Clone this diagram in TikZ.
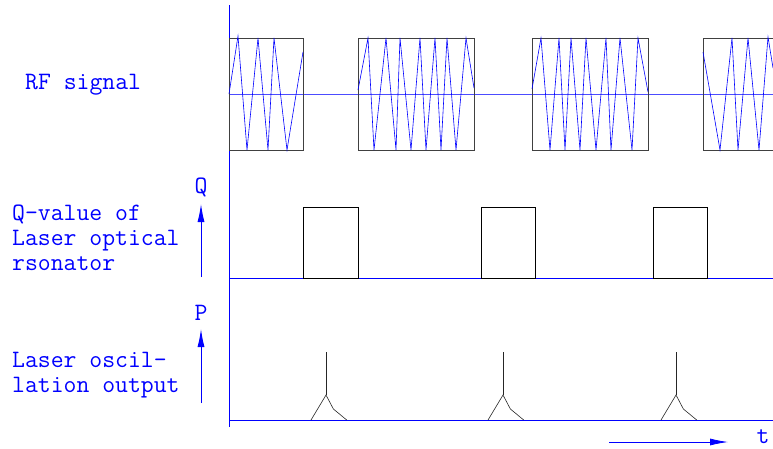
\documentclass[tikz,border=0pt]{standalone}
\usetikzlibrary{arrows.meta}
\tikzset{>={Latex[length=18pt,width=7pt]}}

\begin{document}
\begin{tikzpicture}[x = 1pt, y = -1pt,
    axis/.style = {blue, line width = 0.8pt},
    wave/.style = {blue, line width = 0.6pt},
    pulse/.style = {black!75, line width = 1pt},
    label/.style = {blue, anchor = base west, align = left, inner sep = 0pt, font = \fontsize{25}{25}\selectfont\ttfamily}]

    \useasboundingbox (0,0) rectangle (773,448);

    % axes
    \draw[axis] (229,5) -- (229,427);
    \draw[blue!70, line width = 1pt] (229,94) -- (773,94);
    \draw[axis] (229,278) -- (773,278);
    \draw[axis] (229,420) -- (773,420);

    % RF signal
    \node[label] (rf) at (25,89) {RF signal};
    \draw[pulse] (229,38) rectangle (303,150);
    \draw[pulse] (358,38) rectangle (474,150);
    \draw[pulse] (532,38) rectangle (648,150);
    \draw[pulse] (773,38) -- (703,38) -- (703,150) -- (773,150);

    \draw[wave] (229,94) -- (238,36) -- (247,150) -- (258,38) -- (268,150) -- (274,38) -- (287,150) -- (303,52);
    \draw[wave] (358,90) -- (368,38) -- (374,150) -- (386,38) -- (396,150) -- (400,38) -- (411,150) -- (420,38)
        -- (426,150) -- (435,38) -- (441,150) -- (447,38) -- (456,150) -- (466,38) -- (474,88);
    \draw[wave] (532,89) -- (541,38) -- (550,150) -- (559,38) -- (565,150) -- (571,38) -- (580,150) -- (586,38)
        -- (596,150) -- (606,38) -- (611,150) -- (620,38) -- (632,150) -- (638,38) -- (648,92);
    \draw[wave] (703,52) -- (720,150) -- (732,38) -- (738,150) -- (748,38) -- (759,150) -- (768,37) -- (773,68);

    % Q-value
    \node[label] (qtxt) at (12,270) {Q-value of\\Laser optical\\rsonator};
    \node[blue, font = \fontsize{25}{25}\selectfont\ttfamily] (qlab) at (201,187) {Q};
    \coordinate (qbase) at (201,277);
    \coordinate (qtip) at (201,204);
    \draw[blue, line width = 1pt, ->] (qbase) -- (qtip);

    \foreach \xa/\xb in {303/358, 481/535, 653/707}{
        \draw[black, line width = 1pt] (\xa,279) -- (\xa,207) -- (\xb,207) -- (\xb,279);
        \draw[black, line width = 1.6pt] (\xa,278.5) -- (\xb,278.5);
    }

    % laser output
    \node[label] (ptxt) at (12,392) {Laser oscil-\\lation output};
    \node[blue, font = \fontsize{25}{25}\selectfont\ttfamily] (plab) at (201,313) {P};
    \coordinate (pbase) at (201,403);
    \coordinate (ptip) at (201,329);
    \draw[blue, line width = 1pt, ->] (pbase) -- (ptip);

    \foreach \px in {326, 503, 676}{
        \begin{scope}[xshift = \px pt]
            \draw[black!85, line width = 0.6pt] (0,352) -- (0,395);
            \draw[black!85, line width = 0.6pt] (-15,420) -- (0,395) -- (7.4,409) -- (20.7,420);
        \end{scope}
    }

    % time
    \coordinate (t0) at (609,442);
    \coordinate (t1) at (728,442);
    \draw[blue, line width = 0.8pt, ->] (t0) -- (t1);
    \node[blue, anchor = base, font = \fontsize{25}{25}\selectfont\ttfamily] (tlab) at (763,443) {t};

\end{tikzpicture}
\end{document}
